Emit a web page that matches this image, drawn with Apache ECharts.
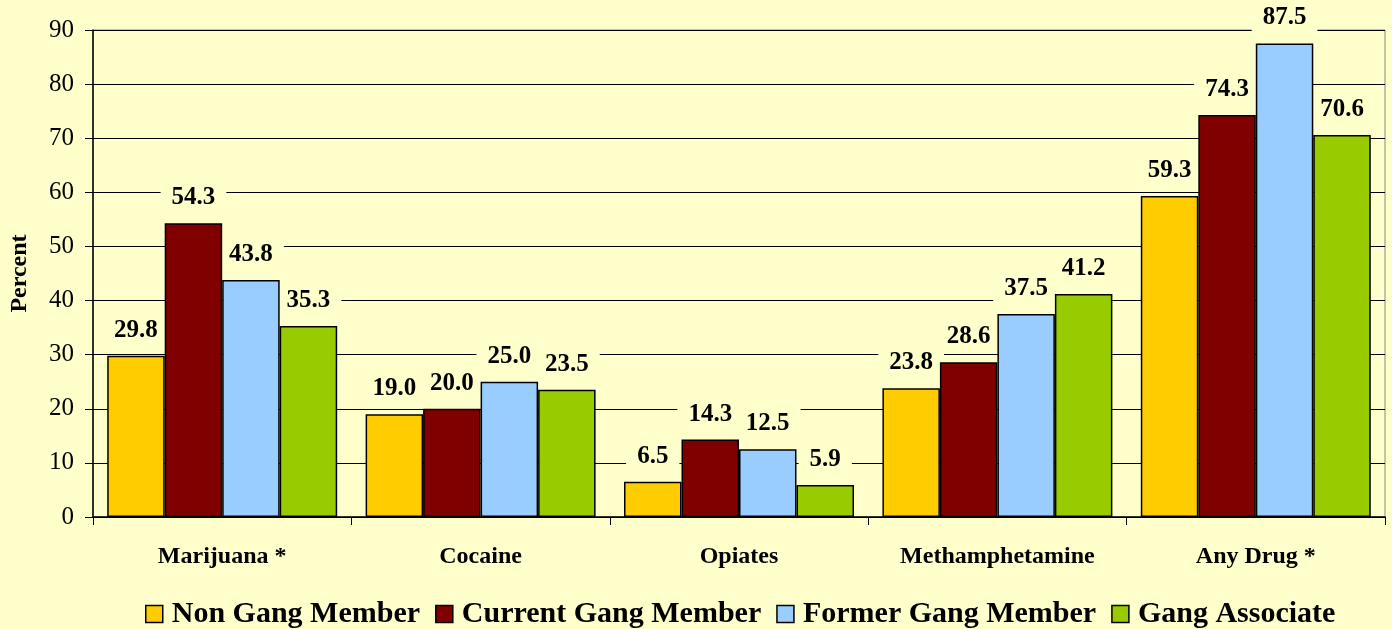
<!DOCTYPE html>
<html>
<head>
<meta charset="utf-8">
<script src="https://cdn.jsdelivr.net/npm/echarts@6/dist/echarts.min.js"></script>
<style>
  html, body { margin: 0; padding: 0; background: #FFFFCC; }
  #chart { width: 1392px; height: 629px; }
</style>
</head>
<body>
<div id="chart"></div>
<script>
var categories = ['Marijuana *', 'Cocaine', 'Opiates', 'Methamphetamine', 'Any Drug *']
var seriesNames = ['Non Gang Member', 'Current Gang Member', 'Former Gang Member', 'Gang Associate']
var nonGang = [29.8, 19.0, 6.5, 23.8, 59.3]
var currentGang = [54.3, 20.0, 14.3, 28.6, 74.3]
var formerGang = [43.8, 25.0, 12.5, 37.5, 87.5]
var gangAssociate = [35.3, 23.5, 5.9, 41.2, 70.6]
var colors = ['#FFCC00', '#800000', '#99CCFF', '#99CC00']

var font = '"Liberation Serif", "Times New Roman", serif'
var values = [nonGang, currentGang, formerGang, gangAssociate]

var myChart = echarts.init(document.getElementById('chart'))

// 真正的柱子放在上层，标签（带底色，盖住网格线）放在下层
var barSeries = seriesNames.map(function (name, i) {
  return {
    name: name,
    type: 'bar',
    xAxisIndex: 0,
    zlevel: 1,
    data: values[i],
    barGap: '0%',
    barCategoryGap: '11%',
    itemStyle: {
      color: colors[i],
      borderColor: '#000',
      borderWidth: 1.5,
    },
  }
})
var labelSeries = seriesNames.map(function (name, i) {
  return {
    name: name + ' (label)',
    type: 'bar',
    xAxisIndex: 1,
    zlevel: 0,
    data: values[i],
    barGap: '0%',
    barCategoryGap: '11%',
    itemStyle: { color: 'rgba(0,0,0,0)' },
    label: {
      show: true,
      position: 'top',
      distance: 10,
      formatter: function (p) {
        return p.value.toFixed(1)
      },
      fontFamily: font,
      fontWeight: 'bold',
      fontSize: 25,
      color: '#000',
      backgroundColor: '#FFFFCC',
      padding: [3, 11],
    },
  }
})

var options = {
  backgroundColor: '#FFFFCC',
  animation: false,
  color: colors,
  grid: {
    left: 93,
    right: 7,
    top: 30,
    bottom: 112,
    outerBoundsMode: 'none',
    containLabel: false,
    show: true,
    borderColor: '#888',
    borderWidth: 1,
    backgroundColor: 'transparent',
  },
  legend: {
    top: 594,
    left: 140,
    itemWidth: 17,
    itemHeight: 17,
    itemGap: 15,
    icon: 'rect',
    textStyle: {
      fontFamily: font,
      fontWeight: 'bold',
      fontSize: 30,
      color: '#000',
      padding: [0, 0, 0, 4],
    },
    itemStyle: { borderColor: '#000', borderWidth: 1.5 },
    data: seriesNames,
  },
  xAxis: [
    {
      type: 'category',
      data: categories,
      axisLine: { lineStyle: { color: '#000', width: 1.5 } },
      axisTick: { show: true, length: 8, alignWithLabel: false, lineStyle: { color: '#000' } },
      axisLabel: {
        margin: 28,
        fontFamily: font,
        fontWeight: 'bold',
        fontSize: 24,
        color: '#000',
      },
    },
    {
      type: 'category',
      data: categories,
      show: false,
    },
  ],
  yAxis: {
    type: 'value',
    min: 0,
    max: 90,
    interval: 10,
    name: 'Percent',
    nameLocation: 'middle',
    nameGap: 61,
    nameTextStyle: {
      fontFamily: font,
      fontWeight: 'bold',
      fontSize: 24,
      color: '#000',
    },
    axisLine: { show: true, lineStyle: { color: '#000', width: 1.5 } },
    axisTick: { show: true, length: 8, lineStyle: { color: '#000' } },
    axisLabel: {
      fontFamily: font,
      fontSize: 25,
      color: '#000',
      margin: 19,
    },
    splitLine: { show: true, lineStyle: { color: '#000', width: 1 } },
  },
  series: labelSeries.concat(barSeries),
}
myChart.setOption(options)
</script>
</body>
</html>
